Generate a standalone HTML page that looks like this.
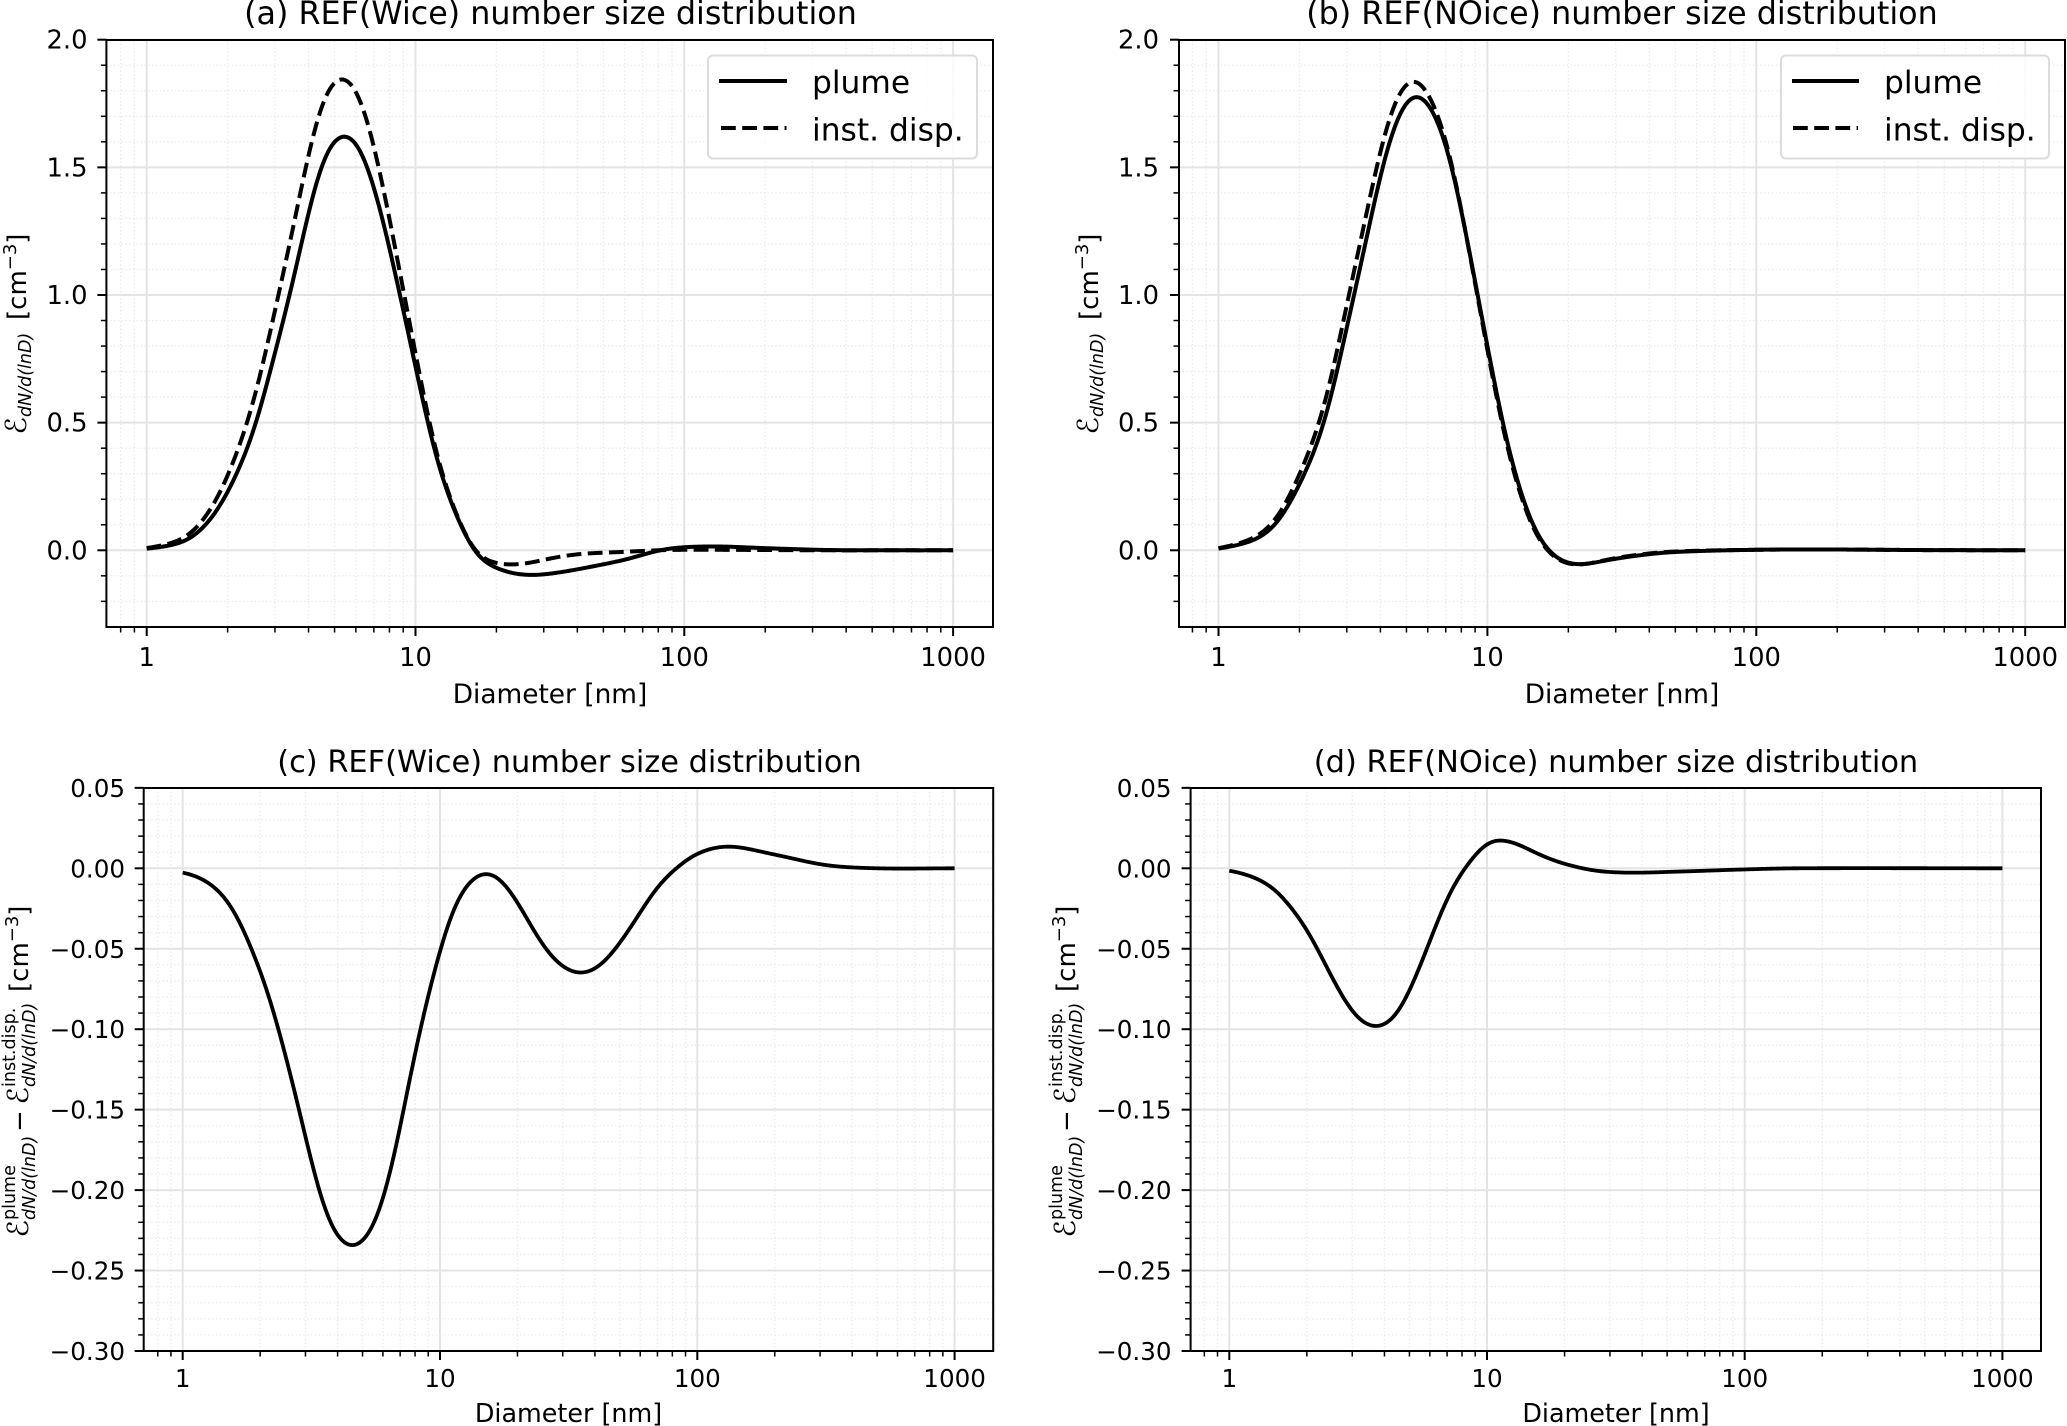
<!DOCTYPE html>
<html lang="en">
<head>
<meta charset="utf-8">
<title>Number size distribution panels</title>
<style>
html,body{margin:0;padding:0;background:#fff;}
svg{display:block;}
text{font-family:"DejaVu Sans","Liberation Sans",sans-serif;fill:#000;}
.title-ab{font-size:31.75px;text-anchor:middle;}
.title-cd{font-size:30.4px;text-anchor:middle;}
.xl-ab{font-size:26.4px;text-anchor:middle;}
.xl-cd{font-size:25.4px;text-anchor:middle;}
.leg{font-size:31.3px;}
.yl{font-size:26px;}
.cal{font-size:29px;text-anchor:end;}
.sub{font-size:17.5px;font-style:italic;}
.sup{font-size:17.5px;}
</style>
</head>
<body>
<svg id="figure" xmlns="http://www.w3.org/2000/svg" width="2067" height="1426" viewBox="0 0 2067 1426">
<rect x="0" y="0" width="2067" height="1426" fill="#fff"/>

<g id="panel-a">
  <g id="panel-a-grid"></g>
  <g id="panel-a-marks"></g>
  <g id="panel-a-axes"></g>
  <text class="title-ab" x="550.5" y="24">(a) REF(Wice) number size distribution</text>
  <text class="xl-ab" x="550" y="703">Diameter [nm]</text>
  <g transform="translate(26,334) rotate(-90)">
    <text class="cal" x="-83" y="0">ℰ</text>
    <text class="sub" x="-83" y="5">dN/d(lnD)</text>
    <text class="yl" x="14" y="0">[cm<tspan font-size="18" dy="-10">−3</tspan><tspan dy="10">]</tspan></text>
  </g>
  <g>
    <rect x="708" y="55.5" width="269" height="103" rx="5" fill="#fff" fill-opacity="0.8" stroke="#dcdcdc" stroke-width="2"/>
    <line x1="719" y1="81" x2="787" y2="81" stroke="#000" stroke-width="4"/>
    <text class="leg" x="812" y="93">plume</text>
    <line x1="721" y1="128" x2="786.5" y2="128" stroke="#000" stroke-width="4" stroke-dasharray="14.8 6.4"/>
    <text class="leg" x="812" y="140.5">inst. disp.</text>
  </g>
</g>

<g id="panel-b">
  <g id="panel-b-grid"></g>
  <g id="panel-b-marks"></g>
  <g id="panel-b-axes"></g>
  <text class="title-ab" x="1622" y="24">(b) REF(NOice) number size distribution</text>
  <text class="xl-ab" x="1622" y="703">Diameter [nm]</text>
  <g transform="translate(1098,334) rotate(-90)">
    <text class="cal" x="-83" y="0">ℰ</text>
    <text class="sub" x="-83" y="5">dN/d(lnD)</text>
    <text class="yl" x="14" y="0">[cm<tspan font-size="18" dy="-10">−3</tspan><tspan dy="10">]</tspan></text>
  </g>
  <g>
    <rect x="1781" y="55.5" width="268" height="103" rx="5" fill="#fff" fill-opacity="0.8" stroke="#dcdcdc" stroke-width="2"/>
    <line x1="1792" y1="81" x2="1859" y2="81" stroke="#000" stroke-width="4"/>
    <text class="leg" x="1884" y="93">plume</text>
    <line x1="1793" y1="128" x2="1858" y2="128" stroke="#000" stroke-width="4" stroke-dasharray="14.8 6.4"/>
    <text class="leg" x="1884" y="140.5">inst. disp.</text>
  </g>
</g>

<g id="panel-c">
  <g id="panel-c-grid"></g>
  <g id="panel-c-marks"></g>
  <g id="panel-c-axes"></g>
  <text class="title-cd" x="569.5" y="772">(c) REF(Wice) number size distribution</text>
  <text class="xl-cd" x="568.5" y="1422">Diameter [nm]</text>
  <g transform="translate(28,1070) rotate(-90)">
    <text class="cal" x="-150" y="0">ℰ</text>
    <text class="sub" x="-150" y="7">dN/d(lnD)</text>
    <text class="sup" x="-150" y="-13">plume</text>
    <text class="yl" x="-62" y="0">−</text>
    <text class="cal" x="-17" y="0">ℰ</text>
    <text class="sub" x="-17" y="7">dN/d(lnD)</text>
    <text class="sup" x="-17" y="-13">inst.disp.</text>
    <text class="yl" x="78" y="0">[cm<tspan font-size="18" dy="-10">−3</tspan><tspan dy="10">]</tspan></text>
  </g>
</g>

<g id="panel-d">
  <g id="panel-d-grid"></g>
  <g id="panel-d-marks"></g>
  <g id="panel-d-axes"></g>
  <text class="title-cd" x="1616" y="772">(d) REF(NOice) number size distribution</text>
  <text class="xl-cd" x="1616" y="1422">Diameter [nm]</text>
  <g transform="translate(1075,1070) rotate(-90)">
    <text class="cal" x="-150" y="0">ℰ</text>
    <text class="sub" x="-150" y="7">dN/d(lnD)</text>
    <text class="sup" x="-150" y="-13">plume</text>
    <text class="yl" x="-62" y="0">−</text>
    <text class="cal" x="-17" y="0">ℰ</text>
    <text class="sub" x="-17" y="7">dN/d(lnD)</text>
    <text class="sup" x="-17" y="-13">inst.disp.</text>
    <text class="yl" x="78" y="0">[cm<tspan font-size="18" dy="-10">−3</tspan><tspan dy="10">]</tspan></text>
  </g>
</g>
</svg>

<script>
// ---- data ----
const diametersA = [1,1.15,1.26,1.41,1.58,1.82,2.09,2.34,2.56,2.95,3.41,3.94,4.42,4.95,5.55,6.22,6.98,7.82,8.73,9.91,11.1,12.9,14.7,16.2,17.8,20.3,22.1,24.5,26.9,32.4,40.7,60,85.1,125,204,347,631,1000];
const plumeA = [0.006,0.015,0.025,0.04,0.08,0.155,0.27,0.39,0.5,0.75,1.0,1.29,1.49,1.595,1.615,1.57,1.42,1.23,1.0,0.745,0.5,0.25,0.11,0.01,-0.035,-0.07,-0.085,-0.093,-0.097,-0.09,-0.073,-0.037,0.004,0.015,0.008,0.001,0,0];
const instDispA = [0.0085,0.021,0.034,0.056,0.107,0.202,0.343,0.49,0.623,0.91,1.2,1.516,1.723,1.827,1.835,1.766,1.582,1.352,1.088,0.8,0.53,0.26,0.115,0.012,-0.025,-0.05,-0.055,-0.053,-0.048,-0.03,-0.015,-0.006,0.001,0.002,0.001,0,0,0];

const diametersB = [1,1.23,1.42,1.64,1.89,2.18,2.37,2.59,2.9,3.16,3.44,3.75,4.08,4.57,5.13,5.51,5.92,6.46,7.03,7.66,8.34,9.08,10,10.8,11.4,12.1,13.2,14.3,15.6,17,18.5,20.2,22.3,26.1,32.7,47.5,100,200,398,1000];
const plumeB = [0.006,0.027,0.053,0.106,0.21,0.347,0.445,0.576,0.81,0.98,1.15,1.333,1.503,1.672,1.764,1.777,1.751,1.685,1.581,1.424,1.229,1.033,0.798,0.628,0.497,0.38,0.25,0.132,0.054,0,-0.034,-0.048,-0.055,-0.044,-0.027,-0.008,0.002,0.003,0.001,0];
const instDispB = [0.0075,0.033,0.064,0.126,0.243,0.396,0.505,0.646,0.895,1.073,1.247,1.431,1.599,1.759,1.832,1.833,1.794,1.713,1.599,1.432,1.228,1.025,0.783,0.611,0.48,0.364,0.235,0.12,0.046,-0.006,-0.038,-0.051,-0.0555,-0.0425,-0.024,-0.006,0.002,0.003,0.001,0];

const diametersC = [1,1.2,1.44,1.67,1.94,2.19,2.47,2.77,3.13,3.52,3.96,4.6,5.35,6.03,6.79,7.64,8.61,9.7,10.9,12.3,13.9,15.2,17.1,19.9,23.1,26.7,31,36.1,41.9,48.6,58.1,69.5,83.2,100,132,200,316,501,1000];
const differenceC = [-0.0025,-0.0073,-0.0176,-0.034,-0.059,-0.082,-0.113,-0.143,-0.179,-0.2085,-0.227,-0.234,-0.225,-0.204,-0.171,-0.13,-0.092,-0.06,-0.032,-0.0145,-0.0056,-0.0035,-0.0073,-0.0207,-0.0384,-0.053,-0.0622,-0.0647,-0.06,-0.0488,-0.031,-0.0124,0,0.009,0.0135,0.0085,0.002,0,0];

const diametersD = [1,1.13,1.32,1.53,1.72,1.94,2.18,2.45,2.77,3.12,3.72,4.33,4.86,5.48,6.17,6.95,7.83,8.83,10,11.2,12.9,14.6,18,21.5,26.5,35.7,59.2,95.3,158,1000];
const differenceD = [-0.0015,-0.0035,-0.0077,-0.0145,-0.024,-0.035,-0.049,-0.065,-0.08,-0.092,-0.098,-0.0925,-0.08,-0.061,-0.0405,-0.02,-0.005,0.006,0.0155,0.017,0.0155,0.0114,0.0052,0.0015,-0.0015,-0.0027,-0.0019,-0.0008,0,0];

const xTickValues = [1,10,100,1000];
const xTickLabels = ['1','10','100','1000'];
const yTickValuesTop = [2,1.5,1,0.5,0];
const yTickLabelsTop = ['2.0','1.5','1.0','0.5','0.0'];
const yMinorTop = [1.9,1.8,1.7,1.6,1.4,1.3,1.2,1.1,0.9,0.8,0.7,0.6,0.4,0.3,0.2,0.1,-0.1,-0.2];
const yTickValuesBottom = [0.05,0,-0.05,-0.1,-0.15,-0.2,-0.25,-0.3];
const yTickLabelsBottom = ['0.05','0.00','−0.05','−0.10','−0.15','−0.20','−0.25','−0.30'];
const yMinorBottom = [0.04,0.03,0.02,0.01,-0.01,-0.02,-0.03,-0.04,-0.06,-0.07,-0.08,-0.09,-0.11,-0.12,-0.13,-0.14,-0.16,-0.17,-0.18,-0.19,-0.21,-0.22,-0.23,-0.24,-0.26,-0.27,-0.28,-0.29];
const xMinorValues = [0.8,0.9,2,3,4,5,6,7,8,9,20,30,40,50,60,70,80,90,200,300,400,500,600,700,800,900];

// ---- axis geometry ----
const SVG_NS = 'http://www.w3.org/2000/svg';
const panelA = {id:'panel-a',left:106.4,right:993,top:40,bottom:627,x1:146.7,decade:268.8,y0:550.3,unit:255.3,labelRight:87.5,xTickBase:666,fs:25.8,sw:4,major:yTickValuesTop,labels:yTickLabelsTop,minor:yMinorTop};
const panelB = {id:'panel-b',left:1179,right:2065,top:40,bottom:627,x1:1218.5,decade:268.9,y0:550.3,unit:255.3,labelRight:1159,xTickBase:666,fs:25.8,sw:4,major:yTickValuesTop,labels:yTickLabelsTop,minor:yMinorTop};
const panelC = {id:'panel-c',left:143.7,right:993.2,top:788,bottom:1351,x1:182.7,decade:257.3,y0:868.3,unit:1609,labelRight:125,xTickBase:1387,fs:24.6,sw:3.8,major:yTickValuesBottom,labels:yTickLabelsBottom,minor:yMinorBottom};
const panelD = {id:'panel-d',left:1190.6,right:2041,top:788,bottom:1351,x1:1229.3,decade:257.7,y0:868.3,unit:1609,labelRight:1171.5,xTickBase:1387,fs:24.6,sw:3.8,major:yTickValuesBottom,labels:yTickLabelsBottom,minor:yMinorBottom};

function xPos(p, d){ return p.x1 + p.decade * Math.log10(d); }
function yPos(p, v){ return p.y0 - p.unit * v; }

function makeLine(x1, y1, x2, y2, color, width, dash){
  const el = document.createElementNS(SVG_NS, 'line');
  el.setAttribute('x1', x1);
  el.setAttribute('y1', y1);
  el.setAttribute('x2', x2);
  el.setAttribute('y2', y2);
  el.setAttribute('stroke', color);
  el.setAttribute('stroke-width', width);
  if (dash) el.setAttribute('stroke-dasharray', dash);
  return el;
}

// Step 1: cubic Hermite through the read values, on a uniform log-diameter grid.
function hermiteAt(t, lx, ys){
  const n = lx.length;
  let i = 0;
  while (i < n - 2 && t > lx[i + 1]) i++;
  const slope = function(k){
    const a = Math.max(0, k - 1), b = Math.min(n - 1, k + 1);
    return (ys[b] - ys[a]) / (lx[b] - lx[a]);
  };
  const h = lx[i + 1] - lx[i];
  const s = (t - lx[i]) / h;
  return (2*s*s*s - 3*s*s + 1) * ys[i] + (s*s*s - 2*s*s + s) * h * slope(i) + (-2*s*s*s + 3*s*s) * ys[i + 1] + (s*s*s - s*s) * h * slope(i + 1);
}

// Step 2: local quadratic fit with a fixed window, which evens out reading noise.
function localFit(idx, grid, vals, sigma){
  let s0 = 0, s1 = 0, s2 = 0, s3 = 0, s4 = 0, r0 = 0, r1 = 0, r2 = 0;
  for (let i = 0; i < grid.length; i++){
    const u = grid[i] - grid[idx];
    if (Math.abs(u) > 3 * sigma) continue;
    const w = Math.exp(-0.5 * (u / sigma) * (u / sigma));
    s0 += w; s1 += w * u; s2 += w * u * u; s3 += w * u * u * u; s4 += w * u * u * u * u;
    r0 += w * vals[i]; r1 += w * u * vals[i]; r2 += w * u * u * vals[i];
  }
  const det = s0 * (s2 * s4 - s3 * s3) - s1 * (s1 * s4 - s3 * s2) + s2 * (s1 * s3 - s2 * s2);
  return (r0 * (s2 * s4 - s3 * s3) - s1 * (r1 * s4 - s3 * r2) + s2 * (r1 * s3 - s2 * r2)) / det;
}

function curvePath(p, xs, ys){
  const lx = xs.map(function(d){ return Math.log10(d); });
  const start = lx[0], end = lx[lx.length - 1];
  const steps = Math.round((end - start) / 0.005);
  const grid = [], vals = [];
  for (let i = 0; i <= steps; i++){
    const t = start + (end - start) * i / steps;
    grid.push(t);
    vals.push(hermiteAt(t, lx, ys));
  }
  let path = '';
  for (let i = 0; i <= steps; i++){
    const px = xPos(p, Math.pow(10, grid[i]));
    const py = yPos(p, localFit(i, grid, vals, 0.05));
    path += (i === 0 ? 'M' : 'L') + px.toFixed(2) + ' ' + py.toFixed(2);
  }
  return path;
}

function drawCurve(p, xs, ys, name, dash){
  const el = document.createElementNS(SVG_NS, 'path');
  
  
  el.setAttribute('d', curvePath(p, xs, ys));
  el.setAttribute('fill', 'none');
  el.setAttribute('stroke', '#000');
  el.setAttribute('stroke-width', p.sw);
  el.setAttribute('stroke-linejoin', 'round');
  if (dash) el.setAttribute('stroke-dasharray', dash);
  document.getElementById(p.id + '-marks').appendChild(el);
}

function drawAxes(p){
  const grid = document.getElementById(p.id + '-grid');
  const axes = document.getElementById(p.id + '-axes');

  xMinorValues.forEach(function(d){
    const x = xPos(p, d);
    const g = makeLine(x, p.top, x, p.bottom, '#e9e9e9', 1.3, '1.4 2.4');
    
    
    grid.appendChild(g);
    const t = makeLine(x, p.bottom, x, p.bottom + 5.5, '#000', 1.5);
    
    
    axes.appendChild(t);
  });

  p.minor.forEach(function(v){
    const y = yPos(p, v);
    const g = makeLine(p.left, y, p.right, y, '#e9e9e9', 1.3, '1.4 2.4');
    
    
    grid.appendChild(g);
    const t = makeLine(p.left - 5.5, y, p.left, y, '#000', 1.5);
    
    
    axes.appendChild(t);
  });

  xTickValues.forEach(function(d, i){
    const x = xPos(p, d);
    const g = makeLine(x, p.top, x, p.bottom, '#e4e4e4', 2);
    
    
    grid.appendChild(g);
    const t = makeLine(x, p.bottom, x, p.bottom + 9, '#000', 2);
    
    
    axes.appendChild(t);
    const label = document.createElementNS(SVG_NS, 'text');
    
    
    label.setAttribute('x', x);
    label.setAttribute('y', p.xTickBase);
    label.setAttribute('text-anchor', 'middle');
    label.setAttribute('font-size', p.fs);
    label.textContent = xTickLabels[i];
    axes.appendChild(label);
  });

  p.major.forEach(function(v, i){
    const y = yPos(p, v);
    const g = makeLine(p.left, y, p.right, y, '#e4e4e4', 2);
    
    
    grid.appendChild(g);
    const t = makeLine(p.left - 9, y, p.left, y, '#000', 2);
    
    
    axes.appendChild(t);
    const label = document.createElementNS(SVG_NS, 'text');
    
    
    label.setAttribute('x', p.labelRight);
    label.setAttribute('y', y + 9);
    label.setAttribute('text-anchor', 'end');
    label.setAttribute('font-size', p.fs);
    label.textContent = p.labels[i];
    axes.appendChild(label);
  });

  const frame = document.createElementNS(SVG_NS, 'rect');
  
  
  frame.setAttribute('x', p.left);
  frame.setAttribute('y', p.top);
  frame.setAttribute('width', p.right - p.left);
  frame.setAttribute('height', p.bottom - p.top);
  frame.setAttribute('fill', 'none');
  frame.setAttribute('stroke', '#000');
  frame.setAttribute('stroke-width', 2);
  axes.appendChild(frame);
}

drawAxes(panelA);
drawAxes(panelB);
drawAxes(panelC);
drawAxes(panelD);

drawCurve(panelA, diametersA, plumeA, 'plume-curve', null);
drawCurve(panelA, diametersA, instDispA, 'inst-disp-curve', '14.8 6.4');
drawCurve(panelB, diametersB, plumeB, 'plume-curve', null);
drawCurve(panelB, diametersB, instDispB, 'inst-disp-curve', '14.8 6.4');
drawCurve(panelC, diametersC, differenceC, 'difference-curve', null);
drawCurve(panelD, diametersD, differenceD, 'difference-curve', null);
</script>
</body>
</html>
